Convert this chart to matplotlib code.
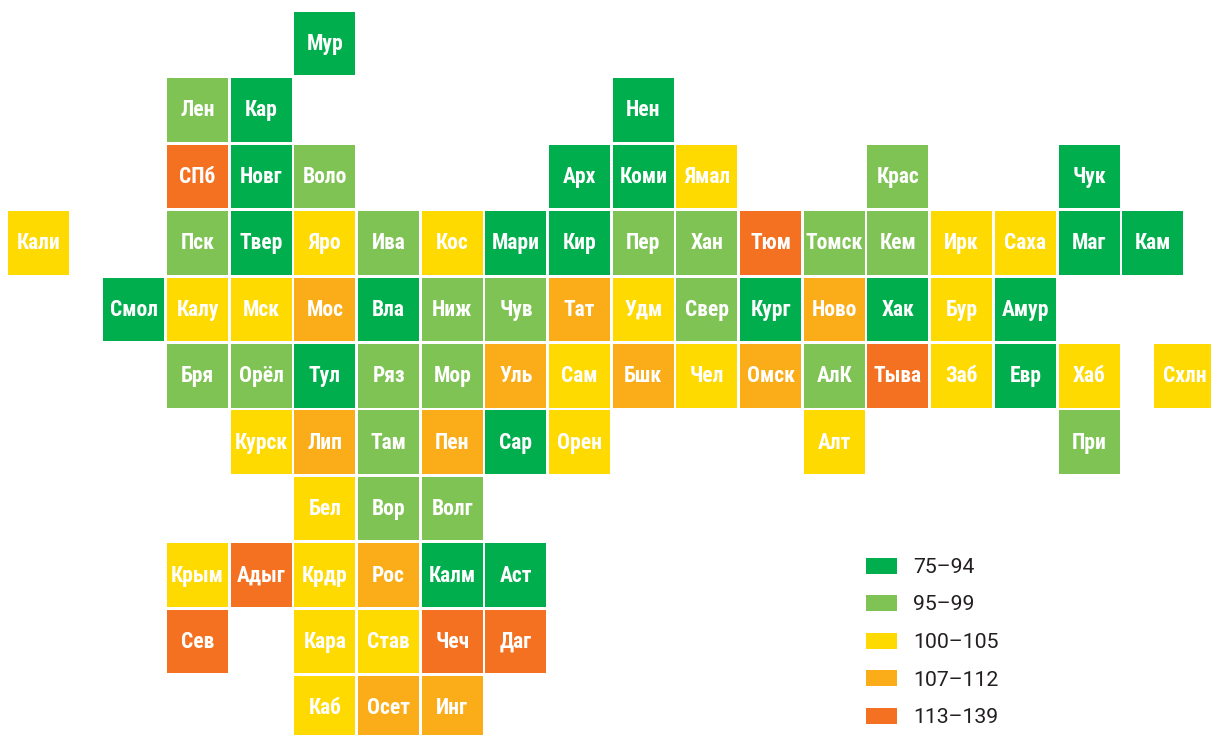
import matplotlib
matplotlib.use("Agg")
import matplotlib.pyplot as plt
from matplotlib.patches import Rectangle

# colour classes of the index, low to high
legend_labels = ["75–94", "95–99", "100–105", "107–112", "113–139"]
colors = ["#00AE4D", "#7FC355", "#FFDA00", "#FAAD19", "#F47122"]

# tile map: name, column, row, class
names = ["Мур",
         "Лен", "Кар", "Нен",
         "СПб", "Новг", "Воло", "Арх", "Коми", "Ямал", "Крас", "Чук",
         "Кали", "Пск", "Твер", "Яро", "Ива", "Кос", "Мари", "Кир", "Пер", "Хан", "Тюм", "Томск", "Кем", "Ирк", "Саха", "Маг", "Кам",
         "Смол", "Калу", "Мск", "Мос", "Вла", "Ниж", "Чув", "Тат", "Удм", "Свер", "Кург", "Ново", "Хак", "Бур", "Амур",
         "Бря", "Орёл", "Тул", "Ряз", "Мор", "Уль", "Сам", "Бшк", "Чел", "Омск", "АлК", "Тыва", "Заб", "Евр", "Хаб", "Схлн",
         "Курск", "Лип", "Там", "Пен", "Сар", "Орен", "Алт", "При",
         "Бел", "Вор", "Волг",
         "Крым", "Адыг", "Крдр", "Рос", "Калм", "Аст",
         "Сев", "Кара", "Став", "Чеч", "Даг",
         "Каб", "Осет", "Инг"]
cols = [2,
        0, 1, 7,
        0, 1, 2, 6, 7, 8, 11, 14,
        -2.5, 0, 1, 2, 3, 4, 5, 6, 7, 8, 9, 10, 11, 12, 13, 14, 15,
        -1, 0, 1, 2, 3, 4, 5, 6, 7, 8, 9, 10, 11, 12, 13,
        0, 1, 2, 3, 4, 5, 6, 7, 8, 9, 10, 11, 12, 13, 14, 15.5,
        1, 2, 3, 4, 5, 6, 10, 14,
        2, 3, 4,
        0, 1, 2, 3, 4, 5,
        0, 2, 3, 4, 5,
        2, 3, 4]
rows = [0,
        1, 1, 1,
        2, 2, 2, 2, 2, 2, 2, 2,
        *[3] * 17,
        *[4] * 15,
        *[5] * 16,
        *[6] * 8,
        7, 7, 7,
        *[8] * 6,
        *[9] * 5,
        10, 10, 10]
classes = [0,
           1, 0, 0,
           4, 0, 1, 0, 0, 2, 1, 0,
           2, 1, 0, 2, 1, 2, 0, 0, 1, 1, 4, 1, 1, 2, 2, 0, 0,
           0, 2, 2, 3, 0, 1, 1, 3, 2, 1, 0, 3, 0, 2, 0,
           1, 1, 0, 1, 1, 3, 2, 3, 2, 3, 1, 4, 2, 0, 2, 2,
           2, 3, 1, 3, 0, 2, 2, 1,
           2, 1, 1,
           2, 4, 2, 3, 0, 0,
           4, 2, 2, 4, 4,
           2, 3, 3]

fig = plt.figure(figsize=(12.11, 7.35), dpi=100)
ax = fig.add_axes([0, 0, 1, 1])
ax.set_xlim(0, 1211)
ax.set_ylim(735, 0)
ax.axis("off")

# tiles
pitch_x, pitch_y = 63.68, 66.45
size_x, size_y = 61, 63.6
for name, c, r, k in zip(names, cols, rows, classes):
    x = 197.5 + c * pitch_x
    y = 43.5 + r * pitch_y
    ax.add_patch(Rectangle((x - size_x / 2, y - size_y / 2), size_x, size_y,
                           facecolor=colors[k], edgecolor="none"))
    ax.text(x, y - 2, name, color="white", fontsize=15.5, fontweight="bold",
            family="Roboto Condensed", ha="center", va="center_baseline")

# legend
for i, (label, col) in enumerate(zip(legend_labels, colors)):
    y = 565.5 + i * 37.5
    ax.add_patch(Rectangle((866, y - 8), 31, 16, facecolor=col, edgecolor="none"))
    ax.text(913, y, label, color="#231F20", fontsize=15.3, family="Roboto",
            ha="left", va="center_baseline")

fig.savefig("out.png", dpi=100)
